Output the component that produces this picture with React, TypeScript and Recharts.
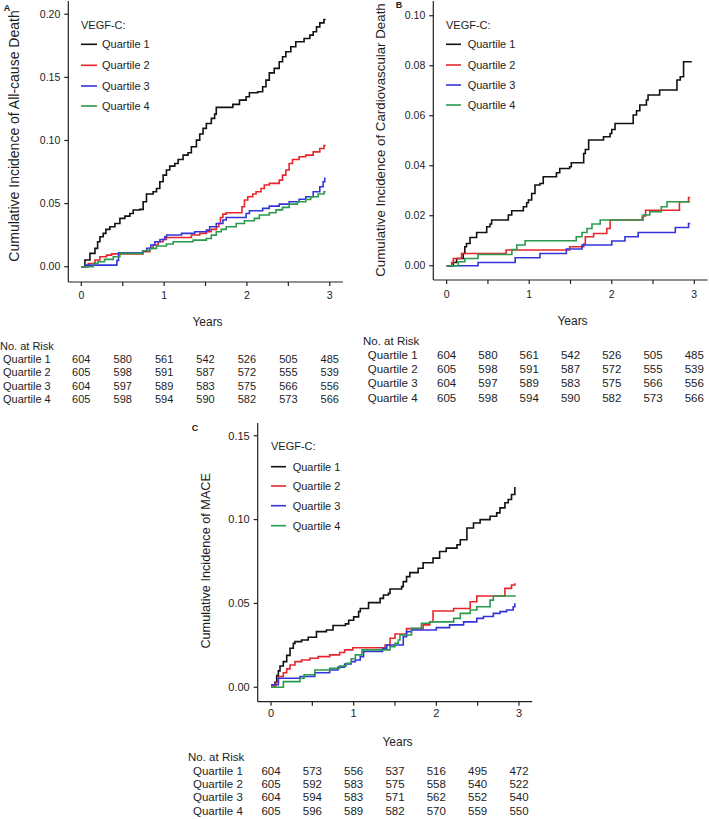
import React from 'react';
import { LineChart, Line, XAxis, YAxis, Legend } from 'recharts';

const FONT = '"Liberation Sans", Arial, Helvetica, sans-serif';
const INK = '#1d1d1d';

type Pt = [number, number];

const quartiles = ['Quartile 1', 'Quartile 2', 'Quartile 3', 'Quartile 4'];
const quartileColors = ['#111111', '#e6262c', '#3434dc', '#2b9a4e'];
const yearTicks = [0, 0.5, 1, 1.5, 2, 2.5, 3];

// A: all-cause death
const aQ1: Pt[] = [[0,0],[0.044,0.0053],[0.104,0.0106],[0.165,0.0145],[0.197,0.0198],[0.225,0.0238],[0.265,0.0264],[0.297,0.0296],[0.345,0.0317],[0.406,0.0343],[0.466,0.0383],[0.526,0.0401],[0.586,0.0422],[0.627,0.0449],[0.707,0.0454],[0.747,0.0515],[0.787,0.0576],[0.867,0.0594],[0.908,0.062],[0.948,0.0673],[0.988,0.0726],[1.028,0.0766],[1.068,0.0797],[1.129,0.0818],[1.169,0.085],[1.229,0.0884],[1.289,0.0903],[1.329,0.095],[1.39,0.1003],[1.43,0.1051],[1.47,0.1096],[1.51,0.1135],[1.57,0.1175],[1.61,0.1209],[1.63,0.1262],[1.83,0.1286],[1.91,0.132],[1.99,0.1346],[2.03,0.1378],[2.13,0.1386],[2.19,0.1426],[2.23,0.1478],[2.27,0.1536],[2.33,0.1571],[2.39,0.1624],[2.43,0.1663],[2.47,0.1703],[2.53,0.1742],[2.59,0.1782],[2.69,0.1808],[2.76,0.1835],[2.8,0.1861],[2.84,0.19],[2.88,0.1932],[2.93,0.1959],[2.95,0.1959]];
const aQ2: Pt[] = [[0,0],[0.084,0.0026],[0.165,0.0053],[0.225,0.0079],[0.305,0.0092],[0.365,0.0102],[0.747,0.0119],[0.827,0.0145],[0.867,0.0172],[0.928,0.0198],[0.988,0.0216],[1.028,0.0232],[1.33,0.0251],[1.43,0.0264],[1.51,0.0277],[1.57,0.0296],[1.63,0.0317],[1.66,0.0343],[1.68,0.039],[1.71,0.0417],[1.75,0.0428],[1.94,0.0475],[1.97,0.0528],[2.01,0.0554],[2.07,0.0576],[2.11,0.0594],[2.17,0.062],[2.21,0.0647],[2.27,0.066],[2.39,0.0686],[2.43,0.0726],[2.47,0.0766],[2.51,0.0818],[2.55,0.085],[2.63,0.0871],[2.71,0.0884],[2.8,0.091],[2.88,0.0937],[2.93,0.096],[2.95,0.096]];
const aQ3: Pt[] = [[0,0],[0.06,0.0013],[0.43,0.005],[0.45,0.0111],[0.74,0.0127],[0.79,0.0145],[0.84,0.0172],[0.888,0.0198],[0.95,0.0216],[1.008,0.0238],[1.03,0.0251],[1.21,0.0264],[1.37,0.0277],[1.51,0.029],[1.55,0.0317],[1.63,0.0343],[1.71,0.037],[1.75,0.039],[1.99,0.0422],[2.03,0.0443],[2.19,0.0462],[2.27,0.048],[2.39,0.0496],[2.51,0.0515],[2.63,0.0535],[2.71,0.0554],[2.8,0.0594],[2.88,0.0634],[2.92,0.0673],[2.94,0.07],[2.95,0.07]];
const aQ4: Pt[] = [[0,0],[0.145,0.0026],[0.2,0.004],[0.28,0.0058],[0.386,0.0079],[0.466,0.0106],[0.747,0.0127],[0.827,0.0145],[0.908,0.0164],[1.028,0.018],[1.11,0.0198],[1.35,0.0211],[1.51,0.0224],[1.57,0.025],[1.63,0.0277],[1.69,0.0296],[1.75,0.0317],[1.87,0.0343],[1.97,0.0364],[2.09,0.0383],[2.15,0.041],[2.27,0.0428],[2.35,0.045],[2.43,0.047],[2.51,0.0496],[2.61,0.0515],[2.71,0.0533],[2.77,0.0554],[2.86,0.0576],[2.93,0.0594],[2.95,0.0594]];

// B: cardiovascular death
const bQ1: Pt[] = [[0,0],[0.08,0.0013],[0.12,0.0029],[0.2,0.0049],[0.22,0.0076],[0.24,0.0089],[0.283,0.0113],[0.363,0.0133],[0.485,0.0156],[0.525,0.0167],[0.545,0.0183],[0.747,0.0203],[0.788,0.022],[0.929,0.0236],[0.969,0.0252],[0.99,0.0263],[1.03,0.0289],[1.07,0.0323],[1.13,0.0329],[1.17,0.0356],[1.33,0.0372],[1.37,0.0389],[1.49,0.0396],[1.51,0.0412],[1.66,0.0449],[1.68,0.0465],[1.72,0.0503],[1.9,0.0516],[1.98,0.0529],[2.0,0.0545],[2.04,0.0569],[2.26,0.0603],[2.3,0.062],[2.34,0.0643],[2.42,0.0663],[2.44,0.0683],[2.58,0.0703],[2.79,0.0743],[2.83,0.0756],[2.87,0.0816],[2.97,0.0816]];
const bQ2: Pt[] = [[0,0],[0.06,0.0013],[0.08,0.0029],[0.18,0.0049],[0.72,0.0063],[1.49,0.0076],[1.66,0.0087],[1.68,0.0116],[1.78,0.0129],[1.94,0.0149],[1.98,0.0183],[2.37,0.0199],[2.41,0.0222],[2.82,0.0256],[2.93,0.0273],[2.95,0.0273]];
const bQ3: Pt[] = [[0,0],[0.38,0.0013],[0.83,0.0032],[1.13,0.0049],[1.45,0.0067],[1.64,0.0083],[2.0,0.0099],[2.16,0.0116],[2.32,0.0133],[2.77,0.0153],[2.93,0.0169],[2.95,0.0169]];
const bQ4: Pt[] = [[0,0],[0.14,0.0016],[0.22,0.0029],[0.38,0.0045],[0.79,0.0065],[0.85,0.0083],[0.95,0.01],[1.57,0.0116],[1.64,0.0133],[1.7,0.0149],[1.76,0.0167],[1.86,0.0183],[2.38,0.0203],[2.46,0.0216],[2.6,0.0236],[2.67,0.0256],[2.95,0.0256]];

// C: MACE
const cQ1: Pt[] = [[0,0.001],[0.048,0.003],[0.069,0.007],[0.089,0.0098],[0.109,0.0127],[0.149,0.0153],[0.19,0.019],[0.23,0.0233],[0.27,0.0262],[0.29,0.0272],[0.37,0.0282],[0.45,0.0298],[0.55,0.0332],[0.67,0.0342],[0.75,0.0368],[0.9,0.0378],[0.94,0.04],[1.0,0.042],[1.06,0.0451],[1.08,0.047],[1.18,0.0505],[1.32,0.053],[1.36,0.055],[1.42,0.056],[1.44,0.0586],[1.58,0.06],[1.6,0.063],[1.64,0.066],[1.68,0.0684],[1.78,0.071],[1.84,0.0743],[1.96,0.077],[2.04,0.081],[2.12,0.083],[2.25,0.085],[2.29,0.088],[2.37,0.095],[2.45,0.098],[2.53,0.1],[2.65,0.102],[2.73,0.104],[2.77,0.107],[2.83,0.11],[2.87,0.112],[2.91,0.115],[2.95,0.119],[2.96,0.119]];
const cQ2: Pt[] = [[0,0.001],[0.06,0.003],[0.089,0.0064],[0.149,0.0087],[0.19,0.011],[0.23,0.0133],[0.29,0.0153],[0.37,0.0163],[0.47,0.0173],[0.57,0.0183],[0.71,0.0193],[0.83,0.0207],[0.89,0.0223],[0.99,0.0236],[1.38,0.0252],[1.44,0.0292],[1.5,0.0318],[1.64,0.035],[1.84,0.0372],[1.92,0.039],[1.96,0.0455],[2.21,0.047],[2.41,0.051],[2.49,0.0544],[2.83,0.059],[2.91,0.061],[2.95,0.0616],[2.96,0.0616]];
const cQ3: Pt[] = [[0,0.0015],[0.089,0.0054],[0.35,0.0064],[0.53,0.0087],[0.71,0.0103],[0.81,0.012],[0.89,0.0139],[0.97,0.0153],[1.02,0.0163],[1.08,0.0183],[1.12,0.0213],[1.35,0.0232],[1.4,0.0252],[1.6,0.0302],[1.64,0.0332],[1.7,0.0342],[2.0,0.0356],[2.16,0.0372],[2.33,0.039],[2.49,0.0411],[2.57,0.0422],[2.69,0.0441],[2.77,0.0451],[2.85,0.0461],[2.93,0.048],[2.95,0.0497],[2.96,0.0497]];
const cQ4: Pt[] = [[0,0],[0.15,0.0034],[0.35,0.0054],[0.4,0.0075],[0.53,0.0103],[0.71,0.0113],[0.83,0.0127],[0.91,0.0143],[0.97,0.017],[1.02,0.0193],[1.1,0.0223],[1.44,0.0242],[1.5,0.0262],[1.54,0.0282],[1.56,0.0312],[1.7,0.0352],[1.82,0.0382],[1.92,0.039],[2.21,0.0411],[2.29,0.0441],[2.41,0.0461],[2.49,0.048],[2.65,0.052],[2.69,0.0544],[2.96,0.0544]];

// numbers at risk, one row per quartile, one column per half year
const riskA = [
  [604, 580, 561, 542, 526, 505, 485],
  [605, 598, 591, 587, 572, 555, 539],
  [604, 597, 589, 583, 575, 566, 556],
  [605, 598, 594, 590, 582, 573, 566],
];
const riskB = riskA;
const riskC = [
  [604, 573, 556, 537, 516, 495, 472],
  [605, 592, 583, 575, 558, 540, 522],
  [604, 594, 583, 571, 562, 552, 540],
  [605, 596, 589, 582, 570, 559, 550],
];

interface PanelCfg {
  letter: string;
  title: string;
  series: Pt[][];
  risk: number[][];
  yTicks: number[];
  left: number; top: number; width: number; height: number;
  plotLeft: number; plotTop: number; plotRight: number; plotBottom: number;
  xDomain: [number, number]; yDomain: [number, number];
  tickFont: number; tickLabelY: number;
  titleX: number; titleY: number; titleFont: number;
  letterX: number; letterY: number;
  yearsX: number; yearsY: number;
  headX: number; headY: number; rowX: number; rowY: number[]; tableFont: number;
  legX: number; legHeadY: number; legRowY: number[]; legLine: number; legTextX: number;
}

const panels: PanelCfg[] = [
  {
    letter: 'A', title: 'Cumulative Incidence of All-cause Death',
    series: [aQ1, aQ2, aQ3, aQ4], risk: riskA, yTicks: [0, 0.05, 0.1, 0.15, 0.2],
    left: 0, top: 0, width: 355, height: 410,
    plotLeft: 68.3, plotTop: 1, plotRight: 343, plotBottom: 282,
    xDomain: [-0.157, 3.16], yDomain: [-0.0121, 0.2105],
    tickFont: 10.5, tickLabelY: 295,
    titleX: 14, titleY: 136, titleFont: 14, letterX: 7, letterY: 8,
    yearsX: 207.5, yearsY: 321.7,
    headX: 0, headY: 346, rowX: 3, rowY: [359, 372.3, 385.7, 399], tableFont: 11,
    legX: 81, legHeadY: 25, legRowY: [44.3, 65.3, 86, 106], legLine: 16, legTextX: 102,
  },
  {
    letter: 'B', title: 'Cumulative Incidence of Cardiovascular Death',
    series: [bQ1, bQ2, bQ3, bQ4], risk: riskB, yTicks: [0, 0.02, 0.04, 0.06, 0.08, 0.1],
    left: 355, top: 0, width: 354, height: 410,
    plotLeft: 78.3, plotTop: 1, plotRight: 352.5, plotBottom: 280,
    xDomain: [-0.162, 3.16], yDomain: [-0.0057, 0.1059],
    tickFont: 10.5, tickLabelY: 294,
    titleX: 25, titleY: 140, titleFont: 13.3, letterX: 44, letterY: 5,
    yearsX: 217.5, yearsY: 320.7,
    headX: 8, headY: 341, rowX: 12.7, rowY: [355, 369, 383, 397.7], tableFont: 11.5,
    legX: 91, legHeadY: 25, legRowY: [44.3, 65, 85, 105], legLine: 15, legTextX: 112.7,
  },
  {
    letter: 'C', title: 'Cumulative Incidence of MACE',
    series: [cQ1, cQ2, cQ3, cQ4], risk: riskC, yTicks: [0, 0.05, 0.1, 0.15],
    left: 180, top: 415, width: 360, height: 404,
    plotLeft: 77.7, plotTop: 8, plotRight: 352.2, plotBottom: 286.7,
    xDomain: [-0.161, 3.16], yDomain: [-0.0086, 0.1576],
    tickFont: 11, tickLabelY: 298.3,
    titleX: 25.7, titleY: 145.8, titleFont: 12.7, letterX: 15, letterY: 13,
    yearsX: 217.5, yearsY: 326.7,
    headX: 8, headY: 342.3, rowX: 13, rowY: [355.7, 369.3, 382.3, 395.7], tableFont: 11.5,
    legX: 91, legHeadY: 30.7, legRowY: [51.7, 71, 90.7, 110.7], legLine: 15, legTextX: 112.7,
  },
];

const txt = { fontFamily: FONT, fill: INK };
const axisStroke = { stroke: '#222', strokeWidth: 1.2 };

// x tick: year label on whole years, plus the column of numbers at risk under it
const renderXTick = (p: any, cfg: PanelCfg) => {
  const value = p.payload.value;
  const col = yearTicks.indexOf(value);
  return (
    <g>
      {Number.isInteger(value) && (
        <text x={p.x} y={cfg.tickLabelY} dy="0.355em" textAnchor="middle" fontSize={cfg.tickFont} {...txt}>
          {value}
        </text>
      )}
      {cfg.risk.map((row, r) => (
        <text key={r} x={p.x} y={cfg.rowY[r]} dy="0.355em" textAnchor="middle" fontSize={cfg.tableFont} {...txt}>
          {row[col]}
        </text>
      ))}
    </g>
  );
};

const renderXLabel = (cfg: PanelCfg) => (
  <g>
    <text x={cfg.yearsX} y={cfg.yearsY} dy="0.355em" textAnchor="middle" fontSize={12} {...txt}>Years</text>
    <text x={cfg.headX} y={cfg.headY} dy="0.355em" fontSize={cfg.tableFont} {...txt}>No. at Risk</text>
    {quartiles.map((q, r) => (
      <text key={q} x={cfg.rowX} y={cfg.rowY[r]} dy="0.355em" fontSize={cfg.tableFont} {...txt}>{q}</text>
    ))}
  </g>
);

const renderYLabel = (cfg: PanelCfg) => (
  <g>
    <text
      x={cfg.titleX} y={cfg.titleY} dy="0.355em" textAnchor="middle" fontSize={cfg.titleFont}
      transform={`rotate(-90 ${cfg.titleX} ${cfg.titleY})`} {...txt}
    >
      {cfg.title}
    </text>
    <text x={cfg.letterX} y={cfg.letterY} dy="0.355em" textAnchor="middle" fontSize={9} fontWeight="bold" {...txt}>
      {cfg.letter}
    </text>
  </g>
);

const renderLegend = (props: any, cfg: PanelCfg) => (
  <svg width={cfg.width} height={130} style={{ display: 'block' }}>
    <text x={cfg.legX} y={cfg.legHeadY} dy="0.355em" fontSize={11} {...txt}>VEGF-C:</text>
    {(props.payload || []).map((e: any, i: number) => (
      <g key={e.value}>
        <line x1={cfg.legX} x2={cfg.legX + cfg.legLine} y1={cfg.legRowY[i]} y2={cfg.legRowY[i]} stroke={e.color} strokeWidth={1.6} />
        <text x={cfg.legTextX} y={cfg.legRowY[i]} dy="0.355em" fontSize={11} {...txt}>{e.value}</text>
      </g>
    ))}
  </svg>
);

const Panel: React.FC<{ cfg: PanelCfg }> = ({ cfg }) => (
  <div style={{ position: 'absolute', left: cfg.left, top: cfg.top }}>
    <LineChart
      width={cfg.width}
      height={cfg.height}
      margin={{ top: cfg.plotTop, right: cfg.width - cfg.plotRight, bottom: 0, left: 0 }}
    >
      <XAxis
        type="number"
        dataKey="t"
        domain={cfg.xDomain}
        allowDataOverflow
        ticks={yearTicks}
        interval={0}
        height={cfg.height - cfg.plotBottom}
        tickSize={4}
        axisLine={axisStroke}
        tickLine={axisStroke}
        tick={(p: any) => renderXTick(p, cfg)}
        label={() => renderXLabel(cfg)}
      />
      <YAxis
        type="number"
        domain={cfg.yDomain}
        allowDataOverflow
        ticks={cfg.yTicks}
        interval={0}
        width={cfg.plotLeft}
        tickSize={4}
        tickMargin={4}
        tickFormatter={(v: number) => v.toFixed(2)}
        axisLine={axisStroke}
        tickLine={axisStroke}
        tick={{ fontSize: cfg.tickFont, fontFamily: FONT, fill: INK }}
        label={() => renderYLabel(cfg)}
      />
      {cfg.series.map((s, i) => (
        <Line
          key={quartiles[i]}
          name={quartiles[i]}
          data={s.map(([t, v]) => ({ t, v }))}
          dataKey="v"
          type="stepAfter"
          stroke={quartileColors[i]}
          strokeWidth={1.6}
          dot={false}
          activeDot={false}
          isAnimationActive={false}
        />
      ))}
      <Legend
        layout="vertical"
        align="center"
        verticalAlign="middle"
        wrapperStyle={{ left: 0, top: 0, width: cfg.width, height: 130, pointerEvents: 'none' }}
        content={(props: any) => renderLegend(props, cfg)}
      />
    </LineChart>
  </div>
);

export default function App() {
  return (
    <div style={{ position: 'absolute', left: 0, top: 0, width: 709, height: 819, background: '#fff' }}>
      {panels.map((cfg) => (
        <Panel key={cfg.letter} cfg={cfg} />
      ))}
    </div>
  );
}
